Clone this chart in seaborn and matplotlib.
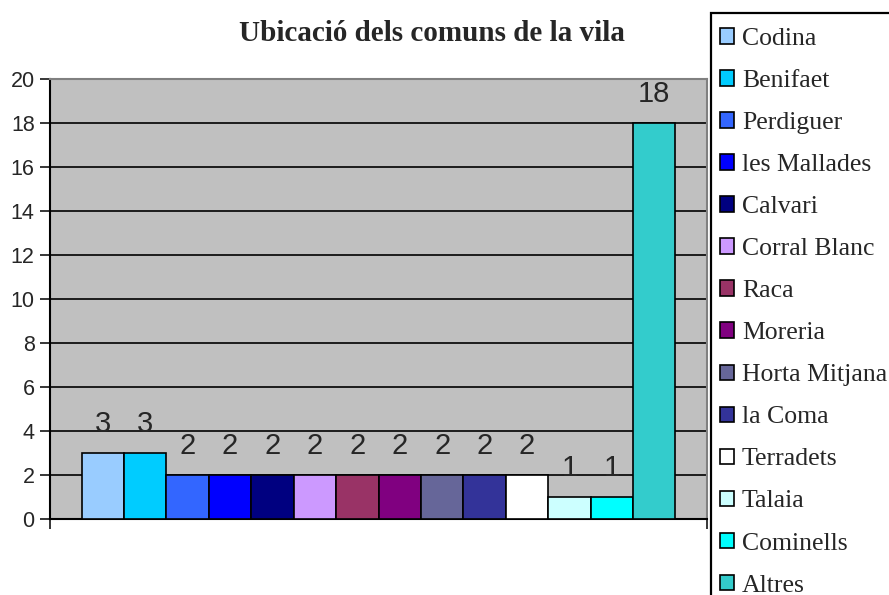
import matplotlib
matplotlib.use('Agg')
import matplotlib.pyplot as plt
from matplotlib.patches import Rectangle
import pandas as pd
import seaborn as sns

TITLE = 'Ubicació dels comuns de la vila'
COMUNS = ['Codina', 'Benifaet', 'Perdiguer', 'les Mallades', 'Calvari',
          'Corral Blanc', 'Raca', 'Moreria', 'Horta Mitjana', 'la Coma',
          'Terradets', 'Talaia', 'Cominells', 'Altres']
VALORS = [3, 3, 2, 2, 2, 2, 2, 2, 2, 2, 2, 1, 1, 18]
COLORS = ['#99CCFF', '#00CCFF', '#3366FF', '#0000FF', '#000080',
          '#CC99FF', '#993366', '#800080', '#666699', '#333399',
          '#FFFFFF', '#CCFFFF', '#00FFFF', '#33CCCC']
Y_TICKS = list(range(0, 21, 2))

df = pd.DataFrame({'grup': [''] * len(COMUNS), 'comu': COMUNS, 'valor': VALORS})

sns.set_style('white')
plt.rcParams['font.family'] = ['Liberation Sans', 'DejaVu Sans']

fig = plt.figure(figsize=(8.89, 5.95), dpi=100)
ax = fig.add_axes([50 / 889, 1 - 519 / 595, 657 / 889, 440 / 595])
ax.set_facecolor('#C0C0C0')

sns.barplot(
    data=df, x='grup', y='valor', hue='comu', hue_order=COMUNS,
    palette=COLORS, width=0.904, gap=0, edgecolor='black', linewidth=1.2,
    saturation=1, ax=ax, zorder=3,
)

for cont in ax.containers:
    ax.bar_label(cont, fontsize=21, padding=10.5, family='Liberation Sans')

ax.set_ylim(0, 20)
ax.set_xlim(-0.5, 0.5)
ax.set_yticks(Y_TICKS)
ax.set_xticks([-0.5, 0.5])
ax.set_xticklabels(['', ''])
ax.set_xlabel('')
ax.set_ylabel('')
ax.yaxis.grid(True, color='black', linewidth=1.2, zorder=1)
ax.set_axisbelow(True)
ax.tick_params(axis='y', labelsize=15.5, direction='out', length=7, width=1.3,
               left=True, pad=4)
ax.tick_params(axis='x', direction='out', length=7, width=1.3, bottom=True)
for side in ['left', 'bottom']:
    ax.spines[side].set_color('black')
    ax.spines[side].set_linewidth(1.5)
for side in ['top', 'right']:
    ax.spines[side].set_color('#808080')
    ax.spines[side].set_linewidth(1.5)

# legend box runs off the right and bottom edges, as in the original
fig.patches.append(Rectangle(
    (711 / 889, -0.1), 0.5, 1.1 - 13 / 595, transform=fig.transFigure,
    fill=False, edgecolor='black', linewidth=1.6,
))

handles, labels = ax.get_legend_handles_labels()
ax.legend_.remove()
fig.legend(
    handles, labels, loc='upper left', bbox_to_anchor=(720 / 889, 1 - 28 / 595),
    bbox_transform=fig.transFigure, borderaxespad=0, frameon=False,
    handlelength=0.55, handleheight=0.55, handletextpad=0.3,
    labelspacing=0.78, borderpad=0,
    prop={'family': 'Liberation Serif', 'size': 18.5},
)

fig.text(432 / 889, 1 - 41 / 595, TITLE, ha='center', va='baseline',
         fontsize=21, fontweight='bold', family='Liberation Serif')

fig.savefig('out.png', dpi=100)
